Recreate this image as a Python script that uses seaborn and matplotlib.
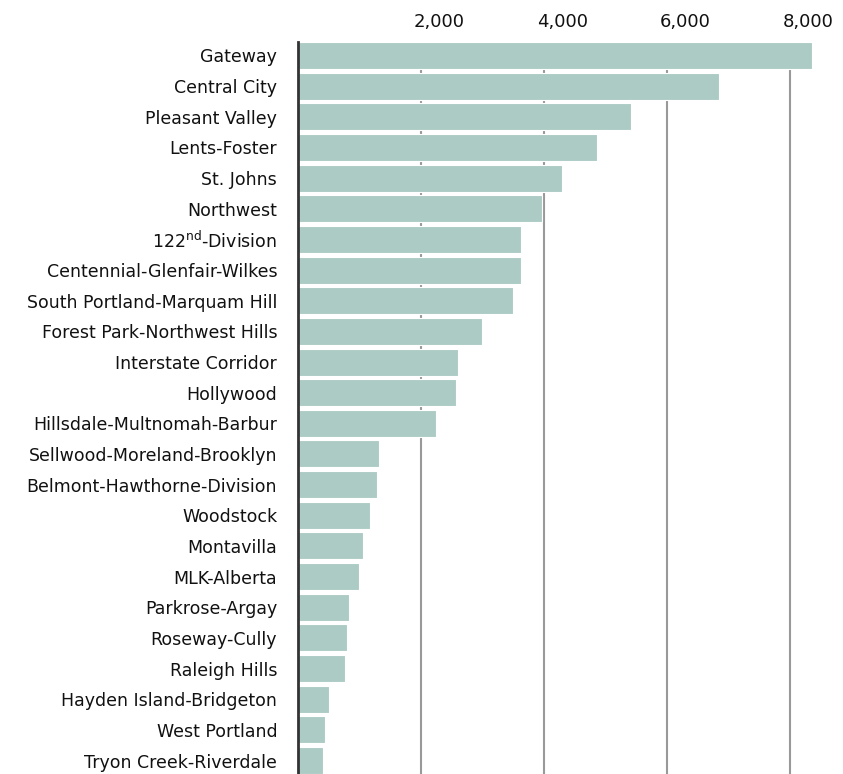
import matplotlib
matplotlib.use('Agg')
import matplotlib.pyplot as plt
import matplotlib.transforms as mtransforms
import pandas as pd
import seaborn as sns

neighborhoods = [
    'Gateway', 'Central City', 'Pleasant Valley', 'Lents-Foster', 'St. Johns',
    'Northwest', '122$^{\\rm nd}$-Division', 'Centennial-Glenfair-Wilkes',
    'South Portland-Marquam Hill', 'Forest Park-Northwest Hills',
    'Interstate Corridor', 'Hollywood', 'Hillsdale-Multnomah-Barbur',
    'Sellwood-Moreland-Brooklyn', 'Belmont-Hawthorne-Division', 'Woodstock',
    'Montavilla', 'MLK-Alberta', 'Parkrose-Argay', 'Roseway-Cully',
    'Raleigh Hills', 'Hayden Island-Bridgeton', 'West Portland',
    'Tryon Creek-Riverdale']
values = [8350, 6850, 5410, 4860, 4300, 3960, 3620, 3620, 3500, 2990, 2600,
          2570, 2240, 1320, 1285, 1175, 1060, 990, 837, 798, 770, 510, 436,
          400]
ticks = [2000, 4000, 6000, 8000]
tick_labels = ['2,000', '4,000', '6,000', '8,000']

df = pd.DataFrame({'neighborhood': neighborhoods, 'value': values})

sns.set_style('white')
plt.rcParams['font.family'] = ['DejaVu Sans']
plt.rcParams['mathtext.fontset'] = 'dejavusans'

W, H = 843, 774
x0 = 298
fig = plt.figure(figsize=(W / 100, H / 100), dpi=100)
ax = fig.add_axes([x0 / W, 0, (W - x0) / W, (H - 42) / H])

sns.barplot(data=df, x='value', y='neighborhood', orient='h',
            color='#adcbc5', saturation=1, width=0.88,
            edgecolor='white', linewidth=0.8, ax=ax, zorder=2)

ax.set_xlim(0, (W - x0) / 0.0615)
ax.set_ylim(23.44, -0.44)
ax.set_xticks(ticks)
ax.set_xticklabels(tick_labels)
ax.xaxis.tick_top()
ax.grid(axis='x', color='#999999', linewidth=1.5, zorder=0)
ax.set_axisbelow(True)
ax.tick_params(axis='x', length=0, pad=8, labelsize=13, colors='#111111')
ax.tick_params(axis='y', length=0, pad=15, labelsize=12.5, colors='#111111')
offset = mtransforms.ScaledTranslation(-7 / 100, 0, fig.dpi_scale_trans)
for lbl in ax.get_xticklabels():
    lbl.set_ha('left')
    lbl.set_transform(lbl.get_transform() + offset)

ax.set_xlabel('')
ax.set_ylabel('')
for side in ['top', 'right', 'bottom']:
    ax.spines[side].set_visible(False)
ax.spines['left'].set_color('#333333')
ax.spines['left'].set_linewidth(2)
ax.spines['left'].set_zorder(3)

fig.savefig('out.png', dpi=100)
